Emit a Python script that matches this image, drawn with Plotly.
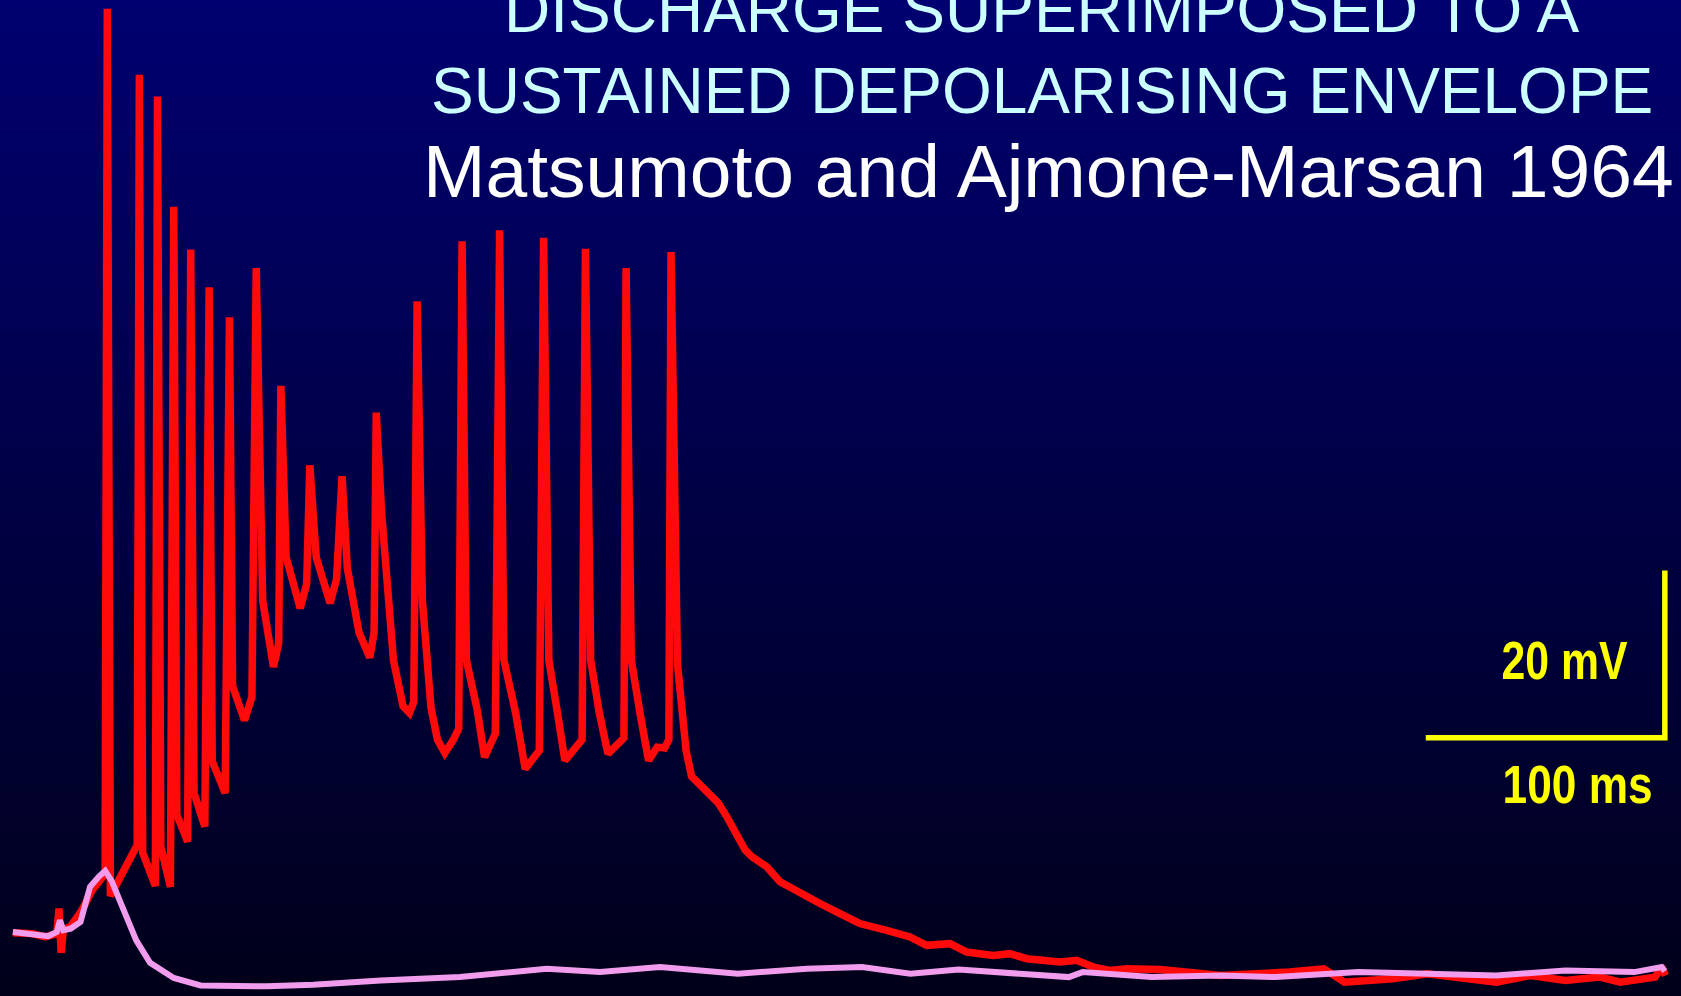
import plotly.graph_objects as go

# ---- data (time in ms, membrane potential in mV relative to rest) ----
red_t = [0.0, 8.1, 13.5, 18.4, 19.3, 20.2, 21.1, 24.2, 28.7, 33.2, 36.8, 38.6, 39.5, 40.8, 52.0,
         52.9, 54.3, 59.6, 60.5, 61.9, 65.9, 67.3, 68.6, 73.1, 74.4, 75.8, 80.3, 82.1, 83.4, 88.8,
         90.6, 91.9, 96.9, 100.0, 101.8, 104.5, 109.0, 111.2, 112.1, 114.3, 120.2, 122.9, 124.2,
         126.9, 132.7, 135.4, 137.7, 139.9, 144.8, 149.3, 151.1, 152.0, 154.3, 159.2, 163.2, 165.9,
         167.7, 169.1, 171.3, 174.9, 177.6, 180.7, 184.3, 186.5, 187.9, 189.7, 194.2, 197.3, 201.8,
         203.6, 205.4, 210.3, 214.3, 220.2, 222.0, 224.2, 227.8, 230.9, 238.1, 239.5, 241.7, 245.3,
         248.9, 255.6, 256.5, 258.7, 262.3, 265.9, 269.5, 272.6, 274.4, 275.3, 278.0, 281.6,
         283.9, 287.4, 291.6, 295.1, 298.6, 302.8, 306.3, 309.1, 315.3, 320.9, 329.3, 337.6, 346.0,
         354.3, 365.5, 375.3, 382.2, 392.0, 399.0, 410.1, 417.1, 424.1, 438.0, 445.0, 452.0, 458.9,
         465.9, 479.9, 505.2, 522.4, 533.9, 548.4, 557.0, 577.2, 591.7, 620.5, 634.9, 649.4, 663.8,
         672.4, 686.9, 689.7, 691.2]
red_v = [0.0, -0.1, -0.5, -0.1, 2.9, -2.4, 0.3, 0.8, 2.6, 5.1, 6.4, 7.1, 110.5, 4.4, 10.5,
         102.6, 9.6, 5.6, 100.0, 10.3, 5.5, 86.8, 14.1, 10.9, 81.7, 16.7, 12.7, 77.2, 20.5, 16.7,
         73.6, 29.5, 25.4, 28.2, 79.5, 39.7, 31.8, 34.6, 65.4, 44.9, 38.8, 41.7, 55.9,
         44.9, 39.4, 42.3, 54.6, 43.6, 35.9, 32.9, 35.9, 62.2, 50.0, 32.6, 27.1, 26.3,
         27.6, 75.5, 39.7, 26.9, 23.1, 21.5, 23.1, 24.4, 82.7, 32.6, 26.7, 21.0, 23.8,
         84.0, 32.6, 26.3, 19.6, 21.8, 83.1, 32.6, 26.3, 20.6, 23.1, 81.8, 32.6, 26.3,
         21.4, 23.3, 79.5, 32.6, 26.3, 20.6, 22.2, 22.1, 23.1, 81.4, 32.1, 21.8,
         18.7, 17.7, 16.7, 15.5, 13.9, 11.9, 9.9, 9.1, 7.9, 6.1, 4.7, 3.5, 2.3,
         1.1, 0.3, -0.5, -1.5, -1.3, -2.3, -2.7, -2.5, -3.1, -3.5, -3.3, -4.1, -4.5,
         -4.3, -4.4, -5.1, -4.9, -4.7, -4.3, -5.9, -5.5, -4.9, -5.9, -5.1, -5.7, -5.3,
         -5.9, -5.3, -4.1, -5.1]

pink_t = [0.0, 8.1, 14.8, 18.4, 19.7, 21.1, 24.2, 28.3, 32.3, 35.9, 38.6, 41.3, 46.2, 51.6, 57.4,
          67.3, 78.5, 106.3, 125.6, 153.8, 187.0, 223.3, 245.6, 270.7, 303.3, 332.1, 355.2, 375.4,
          395.6, 418.6, 441.7, 447.5, 476.3, 505.2, 528.3, 562.8, 591.7, 620.5, 649.4, 678.2,
          689.7, 691.0]
pink_v = [0.1, -0.1, -0.4, 0.1, 1.5, 0.3, 0.5, 1.3, 5.5, 6.7, 7.4, 6.2, 2.7, -0.9, -3.6,
          -5.4, -6.3, -6.4, -6.2, -5.7, -5.3, -4.3, -4.7, -4.1, -4.9, -4.3, -4.1, -4.9,
          -4.4, -4.9, -5.3, -4.7, -5.3, -5.1, -5.3, -4.7, -4.9, -5.1, -4.5, -4.7,
          -4.1, -4.6]

scale_ms = 100
scale_mv = 20
scale_labels = ["20 mV", "100 ms"]

title_lines = ["DISCHARGE SUPERIMPOSED TO A", "SUSTAINED DEPOLARISING ENVELOPE"]
citation = "Matsumoto and Ajmone-Marsan 1964"

# ---- figure ----
W, H = 1681, 996
X_RANGE = [-5.38, 697.76]
Y_RANGE = [-7.56, 111.54]

fig = go.Figure()

# background vertical gradient (navy to near-black)
n_bands = 120
top_rgb = (0, 0, 112)
bot_rgb = (0, 0, 26)
shapes = []
for i in range(n_bands):
    f = i / (n_bands - 1)
    r = round(top_rgb[0] + (bot_rgb[0] - top_rgb[0]) * f)
    g = round(top_rgb[1] + (bot_rgb[1] - top_rgb[1]) * f)
    b = round(top_rgb[2] + (bot_rgb[2] - top_rgb[2]) * f)
    y1 = 1 - i / n_bands
    y0 = 1 - (i + 1) / n_bands - 0.002
    shapes.append(dict(type="rect", xref="paper", yref="paper", x0=0, x1=1, y0=y0, y1=y1,
                       fillcolor=f"rgb({r},{g},{b})", line=dict(width=0), layer="below"))

fig.add_trace(go.Scatter(x=red_t, y=red_v, mode="lines",
                         line=dict(color="#FF0A0A", width=7.5), hoverinfo="skip"))
fig.add_trace(go.Scatter(x=pink_t, y=pink_v, mode="lines",
                         line=dict(color="#F29CEE", width=6), hoverinfo="skip"))

# scale bar
sb_t0, sb_v0 = 591.0, 23.33
fig.add_trace(go.Scatter(x=[sb_t0, sb_t0 + scale_ms, sb_t0 + scale_ms],
                         y=[sb_v0, sb_v0, sb_v0 + scale_mv], mode="lines",
                         line=dict(color="#FFFF00", width=5.5), hoverinfo="skip"))

title_font = "Liberation Sans, Arial, Helvetica, sans-serif"
label_font = "Liberation Sans, Arial, sans-serif"
annotations = [
    dict(text=title_lines[0], x=0.6199, y=0.990, xref="paper", yref="paper",
         xanchor="center", yanchor="middle", showarrow=False,
         font=dict(family=title_font, size=64, color="#CCFFFF")),
    dict(text=title_lines[1], x=0.6199, y=0.9086, xref="paper", yref="paper",
         xanchor="center", yanchor="middle", showarrow=False,
         font=dict(family=title_font, size=64, color="#CCFFFF")),
    dict(text=citation, x=0.624, y=0.8283, xref="paper", yref="paper",
         xanchor="center", yanchor="middle", showarrow=False,
         font=dict(family=title_font, size=75, color="#FFFFFF")),
    dict(text=scale_labels[0], x=0.9304, y=0.3373, xref="paper", yref="paper",
         xanchor="center", yanchor="middle", showarrow=False,
         font=dict(family=label_font, size=54, color="#FFFF00", weight="bold")),
    dict(text=scale_labels[1], x=0.9387, y=0.2129, xref="paper", yref="paper",
         xanchor="center", yanchor="middle", showarrow=False,
         font=dict(family=label_font, size=54, color="#FFFF00", weight="bold")),
]

fig.update_layout(
    width=W, height=H,
    margin=dict(l=0, r=0, t=0, b=0),
    paper_bgcolor="#000030",
    plot_bgcolor="rgba(0,0,0,0)",
    showlegend=False,
    shapes=shapes,
    annotations=annotations,
    xaxis=dict(range=X_RANGE, visible=False, fixedrange=True),
    yaxis=dict(range=Y_RANGE, visible=False, fixedrange=True),
)

# narrow (condensed) look of the scale-bar labels: squeeze them horizontally to the
# reference widths, keeping their centres
post_js = """
document.body.style.margin='0';
document.body.style.overflow='hidden';
(function(){
  var targets = {'20 mV': 126, '100 ms': 150};
  function fix(){
    document.querySelectorAll('g.annotation text').forEach(function(t){
      var s = t.textContent;
      if (!(s in targets)) return;
      t.removeAttribute('transform');
      var b = t.getBBox();
      if (!b.width) return;
      var k = targets[s] / b.width;
      var cx = b.x + b.width / 2;
      t.setAttribute('transform', 'translate(' + cx + ',0) scale(' + k + ',1) translate(' + (-cx) + ',0)');
    });
  }
  fix();
  setTimeout(fix, 50);
})();
"""

fig.write_html("out.html", config={"displayModeBar": False}, post_script=post_js)
